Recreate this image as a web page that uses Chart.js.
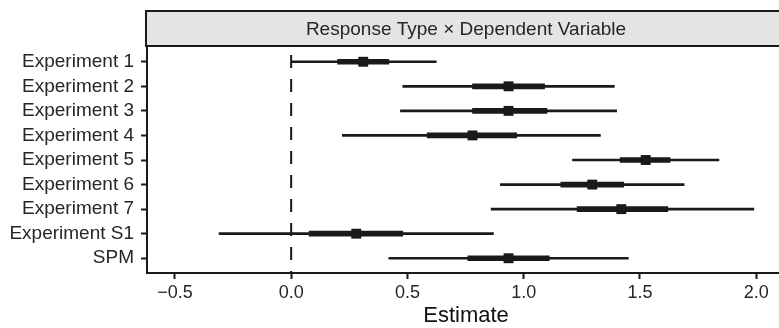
<!DOCTYPE html>
<html>
<head>
<meta charset="utf-8">
<script src="https://cdn.jsdelivr.net/npm/chart.js@4/dist/chart.umd.min.js"></script>
<style>
html, body { margin: 0; padding: 0; background: #fff; overflow: hidden; }
#wrap { width: 792px; height: 328px; }
</style>
</head>
<body>
<div id="wrap"><canvas id="forestChart" width="792" height="328"></canvas></div>
<script>
// rows, top to bottom
var experiments = ['Experiment 1', 'Experiment 2', 'Experiment 3', 'Experiment 4', 'Experiment 5',
    'Experiment 6', 'Experiment 7', 'Experiment S1', 'SPM'];
// point estimates
var estimates = [0.31, 0.935, 0.935, 0.78, 1.525, 1.295, 1.42, 0.28, 0.935];
// thick interval
var innerLow = [0.20, 0.78, 0.78, 0.585, 1.415, 1.16, 1.23, 0.077, 0.76];
var innerHigh = [0.42, 1.09, 1.10, 0.97, 1.63, 1.43, 1.62, 0.48, 1.11];
// thin interval
var outerLow = [0.0, 0.48, 0.47, 0.22, 1.21, 0.90, 0.86, -0.31, 0.42];
var outerHigh = [0.624, 1.39, 1.40, 1.33, 1.84, 1.69, 1.99, 0.87, 1.45];
var xTicks = [-0.5, 0, 0.5, 1, 1.5, 2];
var panelTitle = 'Response Type × Dependent Variable';
var axisTitle = 'Estimate';

var ink = '#1a1a1a';
var textColor = '#262626';
var fontFamily = '"Liberation Sans", Arial, Helvetica, sans-serif';

function intervalData(lows, highs) {
    return lows.map(function (lo, i) {
        return { x: [lo, highs[i]], y: i };
    });
}

// grey strip with the panel title above the plot
var stripPlugin = {
    id: 'strip',
    afterDraw: function (chart) {
        var ctx = chart.ctx;
        var area = chart.chartArea;
        var top = 11;
        var bottom = area.top - 1;
        ctx.save();
        ctx.fillStyle = '#e4e4e4';
        ctx.fillRect(area.left - 1, top, area.right - area.left + 2, bottom - top);
        ctx.strokeStyle = ink;
        ctx.lineWidth = 2;
        ctx.strokeRect(area.left - 1, top, area.right - area.left + 2, bottom - top);
        ctx.fillStyle = textColor;
        ctx.font = '19px ' + fontFamily;
        ctx.textAlign = 'center';
        ctx.textBaseline = 'middle';
        ctx.fillText(panelTitle, (area.left + area.right) / 2, (top + bottom) / 2 + 1);
        ctx.restore();
    }
};

// dashed reference line at zero
var zeroLinePlugin = {
    id: 'zeroLine',
    beforeDatasetsDraw: function (chart) {
        var ctx = chart.ctx;
        var area = chart.chartArea;
        var x = chart.scales.x.getPixelForValue(0);
        ctx.save();
        ctx.strokeStyle = ink;
        ctx.lineWidth = 2;
        ctx.setLineDash([13, 11]);
        ctx.lineDashOffset = 16;
        ctx.beginPath();
        ctx.moveTo(x, area.top);
        ctx.lineTo(x, area.bottom);
        ctx.stroke();
        ctx.restore();
    }
};

var forestChart = new Chart(document.getElementById('forestChart'), {
    type: 'bar',
    data: {
        datasets: [{
            label: 'outer',
            data: intervalData(outerLow, outerHigh),
            backgroundColor: ink,
            borderWidth: 0,
            barThickness: 2,
            grouped: false,
            order: 3
        }, {
            label: 'inner',
            data: intervalData(innerLow, innerHigh),
            backgroundColor: ink,
            borderWidth: 0,
            barThickness: 5,
            grouped: false,
            order: 2
        }, {
            type: 'scatter',
            label: 'estimate',
            data: estimates.map(function (v, i) { return { x: v, y: i }; }),
            pointStyle: 'rect',
            pointRadius: 7,
            pointBorderWidth: 0,
            backgroundColor: ink,
            order: 1
        }]
    },
    options: {
        indexAxis: 'y',
        responsive: false,
        animation: false,
        layout: { padding: { top: 47, left: 0, right: 0, bottom: 0 } },
        plugins: {
            legend: { display: false },
            tooltip: { enabled: false }
        },
        scales: {
            x: {
                type: 'linear',
                min: -0.62,
                max: 2.124,
                afterBuildTicks: function (scale) {
                    scale.ticks = xTicks.map(function (v) { return { value: v }; });
                },
                afterFit: function (scale) { scale.height = 55; },
                ticks: {
                    color: textColor,
                    font: { family: fontFamily, size: 18 },
                    padding: 3,
                    maxRotation: 0,
                    callback: function (v) {
                        return v < 0 ? '\u2212' + Math.abs(v).toFixed(1) : v.toFixed(1);
                    }
                },
                grid: {
                    drawOnChartArea: false,
                    drawTicks: true,
                    tickLength: 6,
                    tickWidth: 2,
                    tickColor: ink,
                    color: ink
                },
                border: { display: true, color: ink, width: 2 },
                title: {
                    display: true,
                    text: axisTitle,
                    color: '#111',
                    font: { family: fontFamily, size: 22 },
                    padding: { top: 0, bottom: -1 }
                }
            },
            y: {
                type: 'linear',
                reverse: true,
                offset: false,
                min: -0.6,
                max: 8.6,
                afterBuildTicks: function (scale) {
                    scale.ticks = experiments.map(function (_, i) { return { value: i }; });
                },
                afterFit: function (scale) { scale.width = 147; },
                ticks: {
                    color: textColor,
                    font: { family: fontFamily, size: 19 },
                    padding: 7,
                    callback: function (v) { return experiments[v]; }
                },
                grid: {
                    offset: false,
                    drawOnChartArea: false,
                    drawTicks: true,
                    tickLength: 6,
                    tickWidth: 2,
                    tickColor: ink,
                    color: ink
                },
                border: { display: true, color: ink, width: 2 }
            }
        }
    },
    plugins: [stripPlugin, zeroLinePlugin]
});
</script>
</body>
</html>
